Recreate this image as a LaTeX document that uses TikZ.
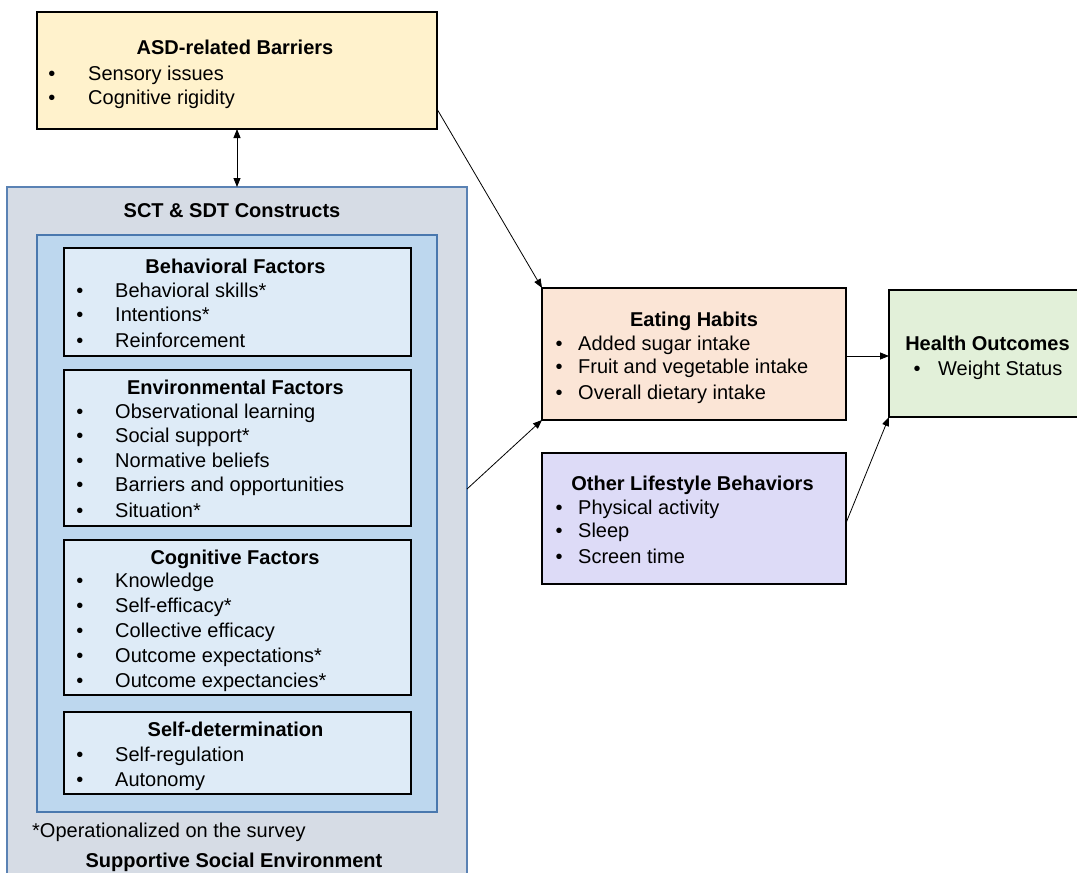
\documentclass[tikz,border=0pt]{standalone}
\usepackage{fontspec}
\setmainfont{Liberation Sans}
\usetikzlibrary{arrows.meta}
\definecolor{asdfill}{HTML}{FFF2CC}
\definecolor{sctfill}{HTML}{D6DCE5}
\definecolor{sctdraw}{HTML}{5A82B4}
\definecolor{innfill}{HTML}{BDD7EE}
\definecolor{innline}{HTML}{4A78AE}
\definecolor{facfill}{HTML}{DEEBF7}
\definecolor{eatfill}{HTML}{FBE5D6}
\definecolor{hlthfill}{HTML}{E2F0D9}
\definecolor{othfill}{HTML}{DDDBF7}
\newcommand\fs{\fontsize{20}{24}\selectfont}
\newcommand\bitem[5]{\node[bul] (#1b) at (#2,#4+7) {•}; \node[itm] (#1) at (#3,#4+7) {#5};}
\tikzset{
  box/.style={draw=black, line width=1.5pt, inner sep=0pt, outer sep=0pt},
  ttl/.style={anchor=base, font=\fs\bfseries, inner sep=0pt},
  itm/.style={anchor=base west, font=\fs, inner sep=0pt},
  bul/.style={anchor=base, font=\fs, inner sep=0pt},
  conn/.style={line width=0.8pt, draw=black, -{Triangle[length=9pt,width=7pt]}},
  dconn/.style={line width=0.8pt, draw=black, {Triangle[length=9pt,width=7pt]}-{Triangle[length=9pt,width=7pt]}},
}
\begin{document}
\begin{tikzpicture}[x=1pt,y=-1pt]
\useasboundingbox (0,0) rectangle (1077,873);
% boxes
\node[box, fill=asdfill, minimum width=400, minimum height=117] (asd) at (237,70.5) {};
\node[box, draw=sctdraw, fill=sctfill, minimum width=460, minimum height=700] (sct) at (237,537) {};
\node[box, draw=innline, fill=innfill, minimum width=400, minimum height=577] (inn) at (237,523.5) {};
\node[box, line width=2pt, fill=facfill, minimum width=347, minimum height=108] (beh) at (237.5,302) {};
\node[box, line width=2pt, fill=facfill, minimum width=347, minimum height=156] (env) at (237.5,448) {};
\node[box, line width=2pt, fill=facfill, minimum width=347, minimum height=155] (cog) at (237.5,617.5) {};
\node[box, line width=2pt, fill=facfill, minimum width=347, minimum height=82] (sdt) at (237.5,753) {};
\node[box, fill=eatfill, minimum width=304, minimum height=132] (eat) at (694,354) {};
\node[box, fill=hlthfill, minimum width=196, minimum height=127] (hlth) at (987,353.5) {};
\node[box, fill=othfill, minimum width=304, minimum height=131] (oth) at (694,518.5) {};
% ASD
\node[ttl] (asdt) at (235,54) {ASD-related Barriers};
\bitem{asd1}{52}{88}{73}{Sensory issues}
\bitem{asd2}{52}{88}{97}{Cognitive rigidity}
% SCT
\node[ttl] (sctt) at (232,217) {SCT \& SDT Constructs};
\node[ttl] (beht) at (235.5,273) {Behavioral Factors};
\bitem{beh1}{80}{115}{290}{Behavioral skills*}
\bitem{beh2}{80}{115}{314}{Intentions*}
\bitem{beh3}{80}{115}{340}{Reinforcement}
\node[ttl] (envt) at (235.5,394) {Environmental Factors};
\bitem{env1}{80}{115}{411}{Observational learning}
\bitem{env2}{80}{115}{435}{Social support*}
\bitem{env3}{80}{115}{460}{Normative beliefs}
\bitem{env4}{80}{115}{484}{Barriers and opportunities}
\bitem{env5}{80}{115}{510}{Situation*}
\node[ttl] (cogt) at (235,564) {Cognitive Factors};
\bitem{cog1}{80}{115}{580}{Knowledge}
\bitem{cog2}{80}{115}{605}{Self-efficacy*}
\bitem{cog3}{80}{115}{630}{Collective efficacy}
\bitem{cog4}{80}{115}{655}{Outcome expectations*}
\bitem{cog5}{80}{115}{680}{Outcome expectancies*}
\node[ttl] (sdtt) at (235.5,736) {Self-determination};
\bitem{sdt1}{80}{115}{754}{Self-regulation}
\bitem{sdt2}{80}{115}{779}{Autonomy}
\node[itm] (foot) at (32,837) {*Operationalized on the survey};
\node[ttl] (sse) at (234,867) {Supportive Social Environment};
% right side
\node[ttl] (eatt) at (694,326) {Eating Habits};
\bitem{eat1}{559}{578}{343}{Added sugar intake}
\bitem{eat2}{559}{578}{366}{Fruit and vegetable intake}
\bitem{eat3}{559}{578}{392}{Overall dietary intake}
\node[ttl] (hltht) at (987.5,350) {Health Outcomes};
\bitem{hlth1}{917}{938}{368}{Weight Status}
\node[ttl] (otht) at (692.5,490) {Other Lifestyle Behaviors};
\bitem{oth1}{559}{578}{507}{Physical activity}
\bitem{oth2}{559}{578}{530}{Sleep}
\bitem{oth3}{559}{578}{556}{Screen time}
% connectors
\draw[dconn] (asd.south) -- (sct.north);
\draw[conn] ([yshift=-38.5pt]asd.east) -- (eat.north west);
\draw[conn] ([yshift=48pt]sct.east) -- (eat.south west);
\draw[conn] ([yshift=-2pt]eat.east) -- ([yshift=-2pt]eat.east -| hlth.west);
\draw[conn] ([yshift=-4.5pt]oth.east) -- (hlth.south west);
\end{tikzpicture}
\end{document}
